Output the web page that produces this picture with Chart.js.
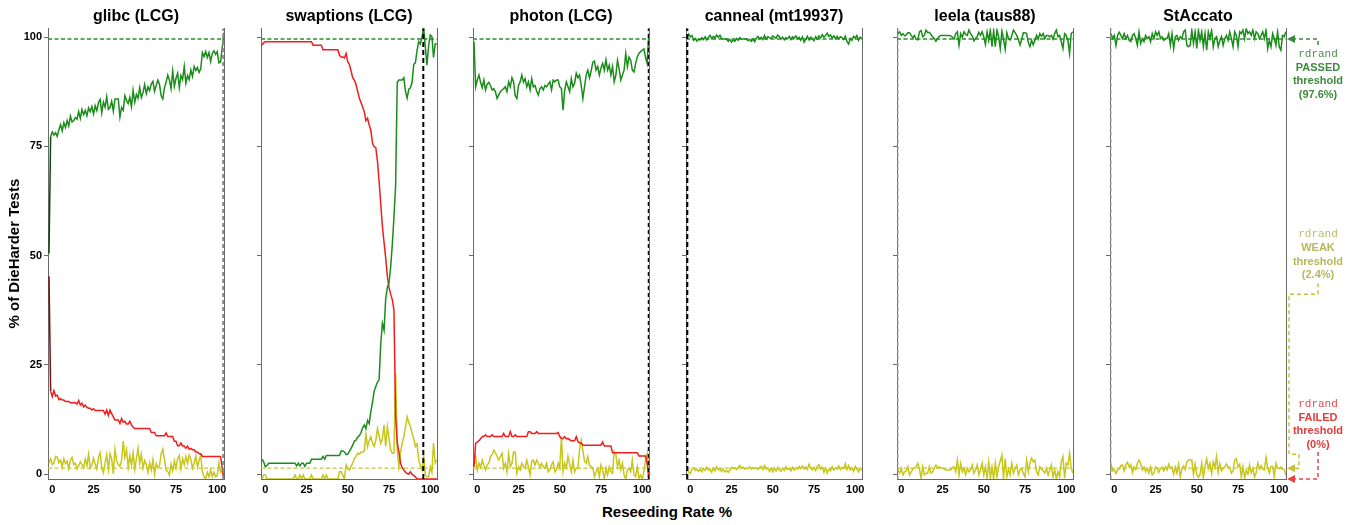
<!DOCTYPE html>
<html><head><meta charset="utf-8">
<script src="https://cdn.jsdelivr.net/npm/chart.js@4.4.1/dist/chart.umd.min.js"></script>
<style>
html,body{margin:0;padding:0;background:#fff;}
#wrap{position:relative;width:1349px;height:525px;overflow:hidden;background:#fff;}
#xtitle{position:absolute;left:467px;width:400px;top:503px;text-align:center;font:bold 15px 'Liberation Sans',Arial,sans-serif;line-height:18px;color:#000;}
</style></head><body>
<div id="wrap"><div id="xtitle">Reseeding Rate %</div></div>
<script>
// ---------- DATA ----------
const rates = [-2,-1,0,1,2,3,4,5,6,7,8,9,10,11,12,13,14,15,16,17,18,19,20,21,22,23,24,25,26,27,28,29,30,31,32,33,34,35,36,37,38,39,40,41,42,43,44,45,46,47,48,49,50,51,52,53,54,55,56,57,58,59,60,61,62,63,64,65,66,67,68,69,70,71,72,73,74,75,76,77,78,79,80,81,82,83,84,85,86,87,88,89,90,91,92,93,94,95,96,97,98,99,100,101,102,103,104];
const xTickValues = [0, 25, 50, 75, 100];
const yTickValues = [0, 25, 50, 75, 100];
const PASSED = 97.6, WEAK = 2.4, FAILED = 0;
const panelTitles = ['glibc (LCG)', 'swaptions (LCG)', 'photon (LCG)', 'canneal (mt19937)', 'leela (taus88)', 'StAccato'];
const markerRates = [103.6, 95.8, 103.8, -1.8, -2.2, -2.2];

const glibcPassed = [50, 76,
 77, 76.3, 76.8, 76, 77.5, 78.6, 77.2, 79, 78, 79.5,
 78.3, 80.5, 79.2, 79.5, 80.2, 79.8, 81.5, 80, 82, 80.8,
 81.8, 80.6, 82.3, 81.5, 82.6, 81, 82.8, 81.7, 83.5, 84.2,
 81.2, 83.6, 82.5, 84.8, 82, 82.4, 83.8, 81.6, 84.3, 84.3,
 84.3, 80.3, 82.4, 81.8, 85, 84, 83.3, 84.7, 82.6, 86.2,
 83.6, 85.3, 84.5, 86.8, 84.6, 85.7, 87.5, 85.5, 87, 86.2,
 87.6, 88.2, 86, 87.3, 88.5, 87.5, 85, 84.3, 86.8, 88,
 89.6, 88.5, 86.6, 90.5, 87.1, 88.9, 90, 86.8, 89.5, 88.6,
 91.5, 87.8, 89.5, 88.6, 90.7, 89.3, 91.5, 90.6, 91.3, 90.2,
 91, 94.6, 93.7, 94.8, 93.5, 94.6, 92.6, 94.4, 95, 94.2,
 94.8,
 92.3, 92.5, 95.5, 99];
const glibcFailed = [45, 19.5,
 18.3, 19.6, 18.4, 18.6, 17.6, 17.8, 17.5, 17.5, 17.2, 17.2,
 17.2, 16.9, 16.9, 16.9, 16.9, 16.6, 17.4, 16.4, 16.8, 16,
 16.4, 15.9, 15.7, 15.7, 15.3, 15.6, 15.2, 15.2, 15.2, 15.2,
 15.2, 15.2, 14.4, 15.3, 14.1, 15.3, 14.5, 13.8, 13.1, 13.1,
 13.1, 12.3, 13.4, 12.6, 12.8, 12.2, 12.2, 12.8, 12, 11.5,
 11.2, 11.2, 11.2, 11.2, 11.2, 11.2, 11.2, 11.2, 11.2, 11.2,
 10.3, 10.3, 10.3, 9.6, 9.6, 9.6, 9.6, 9.6, 9.6, 10.2,
 9.4, 9.4, 9.4, 9.4, 8.4, 8.4, 7.4, 7.4, 8.0, 7.3,
 7.3, 6.8, 7.3, 6.6, 6.8, 6.5, 6.5, 6.0, 6.0, 5.6,
 5.6, 5, 5, 5, 5, 5, 5, 5, 5, 5,
 5,
 5, 5, 2.5, 0];
const glibcWeak = [3.5, 4.5,
 3.2, 3.6, 5, 4.8, 3.6, 4.2, 2.6, 4.5, 3.4, 4,
 2.3, 4.2, 4.8, 3.2, 3.5, 2.2, 3, 3.8, 3.2, 2.5,
 4.4, 3, 5.5, 2.4, 3.1, 4.6, 3.3, 2.2, 4.8, 5.8,
 2.5, 1.4, 3.5, 5.4, 2.1, 5.6, 4.4, 1.1, 6.6, 4,
 3.2, 2.8, 4.2, 8.4, 4.8, 6.5, 2.6, 5.2, 3, 5.8,
 2.1, 4.5, 6.8, 3.5, 5.5, 2.4, 4.1, 3.2, 1.5, 3.6,
 2, 4.3, 1, 3.4, 2.5, 3, 5.5, 6.6, 4.3, 2,
 1.7, 0.8, 3.3, 1.8, 4, 2.4, 4.5, 5.2, 2.2, 4.5,
 3.2, 5, 3.5, 5.3, 4.4, 2.4, 3.5, 5.1, 2.7, 4.2,
 5.2, 1.6, 0.5, 0, 1.5, 0.5, 2, 0.5, 1.5, 0.5,
 0.8,
 3.5, 1.5, 2, 0];

const swaptionsPassed = [4.4, 3.8,
 2.7, 3, 3.5, 3.5, 3.5, 3.5, 3.5, 3.5, 3.5, 3.5,
 3.5, 3.5, 3.5, 3.5, 3.5, 3.5, 3.5, 3.5, 3.5, 2.9,
 3.5, 2.9, 3.5, 3.5, 2.8, 3.5, 3.5, 3.5, 4.4, 4.4,
 4.4, 4.4, 4.4, 4.4, 4.4, 5, 4.4, 5.2, 5.2, 5.2,
 5.2, 5.2, 5.2, 5.2, 5.2, 5.2, 6.2, 6.2, 6, 5.4,
 5.5, 6.2, 6.8, 7.5, 8.4, 8.6, 9.3, 9.6, 10.3, 11.3,
 12, 11.2, 13, 12.3, 15, 17, 19.5, 20.5, 21.5, 22,
 30, 34.5, 33, 40, 42.5, 43.5, 47, 52, 58, 65,
 88, 88.5, 88.5, 88.5, 89, 86, 84.5, 86.5, 86.8, 88,
 92, 92.3, 95, 97, 96.5, 98, 100, 96, 91.8, 96,
 98.5,
 98.2, 93.5, 96.5, 96.5];
const swaptionsFailed = [96.2, 96.8,
 97, 97, 97, 97, 97, 97, 97, 97, 97, 97,
 97, 97, 97, 97, 97, 97, 97, 97, 97, 97,
 97, 97, 97, 97, 97, 97, 97, 97, 97, 96.2,
 96.2, 96.2, 96.2, 96.2, 96.2, 95.2, 95.2, 95.2, 95.2, 95.2,
 95.2, 95.2, 95.2, 95.2, 95.2, 94, 93.6, 93.6, 93.4, 94.4,
 92.5, 92, 90.5, 89, 88.5, 87.5, 86, 84.5, 83.5, 82.5,
 81.5, 79.5, 80, 78.5, 77.3, 74.5, 73.7, 73.5, 70.5, 66,
 61, 56, 52.5, 49, 45, 42.5, 41, 39.8, 37.5, 14,
 8, 6, 3.5, 2.5, 2, 1.5, 1.2, 1.1, 1.6, 1,
 0.8, 0.5, 0, 0, 0, 0, 0, 0, 0, 0,
 0,
 0, 0, 0, 0];
const swaptionsWeak = [0, 0.9,
 0.9, 0, 0, 0, 0, 0, 0, 0, 0, 0,
 0, 0, 0, 0, 0, 0, 0, 0, 0.9, 0,
 0, 0.9, 0, 0.9, 0, 0, 0, 0, 0.9, 0,
 0, 0, 0, 0, 0, 0.9, 0, 0.9, 0, 0,
 0, 0, 0, 0, 0, 1.6, 1.6, 0.8, 0, 3.1,
 2.3, 2, 2.8, 3.5, 4.5, 5, 5.7, 5.5, 6, 6,
 6.2, 10, 7.2, 8.5, 9.4, 8, 7.2, 8.6, 11.2, 9.5,
 7.9, 9, 12, 7.2, 11.6, 9, 6.4, 5.7, 5.7, 23.4,
 6.4, 2.7, 6, 7.9, 9.4, 11.5, 13.8, 12.5, 11.6, 10.1,
 9, 7.2, 7.8, 4.2, 3, 2, 5, 0.9, 0.5, 0.5,
 2.7,
 1.5, 8, 3.5, 4.2];

const photonPassed = [97, 87,
 88.5, 89.6, 88, 86.8, 88.5, 86.3, 87.6, 88, 87.3, 86.3,
 86.6, 85.9, 84.4, 85.2, 85.9, 86.3, 86.6, 87, 85.9, 88.1,
 87, 89, 88.1, 85, 84.4, 87.3, 88.1, 89.6, 88, 88.8,
 87, 88.1, 86.3, 88.8, 87, 87.3, 86, 85.2, 86.6, 87,
 86.3, 87.3, 87, 87.6, 88.1, 86.3, 88.5, 88.1, 88.5, 88.5,
 87, 86.6, 81.8, 86.3, 88.1, 87, 85.9, 88.8, 87, 87.8,
 90, 89, 89.6, 87.3, 84.4, 87, 89.6, 90.7, 89, 90.5,
 92.4, 92.7, 90.7, 91.5, 89.6, 91.2, 92.2, 90.7, 93, 90.7,
 91.8, 89.6, 91.5, 88.1, 89.6, 92.9, 91, 88.5, 89.6, 90.7,
 94.4, 91.5, 93.6, 92.9, 90.7, 90.3, 92.2, 93.6, 94.4, 94.8,
 95.1,
 95.4, 93.5, 92.2, 98.8];
const photonFailed = [2.7, 7.9,
 8.2, 8.5, 8.9, 9.4, 9.4, 9.8, 9.4, 9.4, 9.4, 9.8,
 9.4, 9.4, 9.4, 9.4, 9.4, 9.4, 10.1, 9.4, 9.4, 9.4,
 10.5, 9.4, 9.4, 9.8, 9.4, 9.4, 9.4, 9.4, 9.4, 9.4,
 9.4, 10.5, 10.5, 10.1, 10.1, 10.1, 10.5, 10.1, 10.1, 10.1,
 10.1, 10.1, 10.1, 10.1, 10.1, 10.1, 10.1, 10.1, 10.1, 10.3,
 9.4, 9.0, 9.0, 9.4, 8.9, 9.0, 8.7, 8.5, 8.5, 8.5,
 9.4, 8.3, 8.0, 8.0, 7.5, 7.5, 7.5, 7.5, 7.5, 7.5,
 7.5, 7.5, 7.5, 7.5, 7.5, 7.5, 8.2, 7.3, 7.3, 7.3,
 7.3, 7.3, 5.8, 5.8, 5.8, 5.8, 5.8, 5.8, 5.8, 5.8,
 5.8, 5.8, 5.8, 5.8, 5.8, 5.8, 5.8, 5.8, 5.1, 5.1,
 5.1,
 5.1, 5.1, 3.5, 0];
const photonWeak = [4, 5,
 2, 3.5, 2.6, 4.2, 3, 2, 3.2, 3.5, 5, 5.4,
 6.4, 5.8, 5, 4.2, 5, 5.7, 2.4, 3.5, 1.6, 5.6,
 2.7, 3.5, 6, 6, 1.3, 2.7, 2, 3.5, 2.8, 2.4,
 4.2, 2.7, 0.9, 4, 4.2, 3.1, 4.2, 3.5, 2.7, 3.5,
 2.7, 2.4, 3.5, 1.6, 2, 3.2, 3.8, 1.6, 2, 3.5,
 2.4, 9.4, 1.6, 3.5, 2.5, 5, 3.2, 1.6, 4.2, 1.6,
 2.4, 2.4, 6.5, 8.6, 6.4, 4, 3.5, 5, 3.1, 2.7,
 2.5, 0.5, 1.6, 2.4, 0.5, 3.1, 2, 0, 2.4, 0.9,
 2.7, 1.6, 1.3, 6.1, 5.5, 2.7, 4.2, 2, 3.5, 0.9,
 0, 2, 2.4, 1.6, 4.2, 0.9, 0.5, 2.7, 0.2, 0.9,
 0,
 1.6, 4.2, 5.7, 2.7];

const cannealPassed = [97.8, 98.7,
 98.1, 98.4, 97.3, 97.7, 97.1, 97.6, 97.4, 97.9, 97.5, 98.1,
 97.4, 98, 98.4, 97.7, 98.2, 97.8, 98.5, 98, 98.4, 97.7,
 97.6, 97.6, 97.6, 97.1, 97.5, 96.9, 97.4, 97.1, 97.7, 97.3,
 97.9, 97.6, 97.6, 97.6, 97.6, 97.2, 97.5, 97.1, 97.6, 97,
 97.8, 98.2, 97.7, 98, 97.5, 98.4, 97.6, 98.1, 97.9, 97.7,
 98.3, 98, 97.8, 98.5, 98.1, 97.6, 98, 97.4, 97.9, 97.7,
 98.2, 97.5, 98.1, 97.8, 98.3, 97.6, 98, 97.3, 98.1, 96.9,
 97.5, 98.2, 97.4, 98, 97.7, 97.2, 98.1, 97.6, 98.3, 97.8,
 98.6, 98, 98.4, 98.9, 98.2, 98.5, 97.8, 98.3, 97.7, 98.2,
 97.6, 98.1, 97.9, 97.5, 98.2, 97, 96.5, 97.7, 97.3, 98.2,
 97.8,
 98.4, 97.3, 98, 97.7];
const cannealWeak = [2.6, 1.5,
 1.2, 2.2, 2.5, 1.9, 2.2, 1.7, 2.1, 1.6, 2.3, 1.9,
 2.6, 2, 2.2, 1.5, 2.4, 1.8, 2.7, 2, 2.3, 1.7,
 2.2, 1.6, 1.9, 1.5, 2, 2.6, 2.3, 2.5, 2.1, 2.6,
 3, 2.4, 2.6, 2.2, 2.4, 2.3, 2.7, 2.2, 2.5, 2.3,
 2.5, 2.1, 2.6, 2.8, 2.1, 3, 2.2, 2.5, 1.7, 2.3,
 1.6, 2.4, 1.8, 2.6, 2, 1.7, 2.4, 1.9, 2.7, 2.1,
 2.4, 1.8, 2.6, 2, 2.5, 2.2, 2.8, 2.3, 2.9, 2.2,
 2.7, 2.1, 3.3, 2.5, 2, 2.6, 1.9, 2.8, 3.2, 2.2,
 2.6, 1.5, 2.4, 1.3, 2.2, 1.8, 2.7, 2, 2.5, 2.2,
 2.9, 2.1, 2.6, 2.3, 3.4, 2.1, 3, 2, 2.5, 1.7,
 2.8,
 2.2, 1.6, 2.4, 1.9];

const leelaPassed = [98.8, 99.2,
 98.4, 98.8, 98.3, 98.5, 99, 99, 98.4, 97.9, 98.4, 97.5,
 97.4, 99.2, 99.5, 98.1, 98.4, 99.6, 99, 99.1, 98.6, 98.1,
 97.7, 97.1, 97.7, 98.2, 98.4, 98.4, 98.4, 98.4, 98.4, 98.4,
 98.3, 98, 97.6, 98.8, 99.2, 96.2, 98.8, 98, 99.2, 98.6,
 98.4, 99.6, 98.8, 98.3, 97.2, 97.7, 98.1, 99.1, 98.4, 99.2,
 98.1, 96.4, 99.2, 97.3, 99.6, 95.9, 99.5, 95.9, 99.6, 98.1,
 95.5, 99.4, 97.5, 95.3, 99, 97.7, 97.4, 98.4, 99.6, 99,
 98.4, 97.5, 96.3, 97.5, 99, 99, 98.8, 96.8, 95.9, 97.3,
 96.3, 97.3, 98.4, 97.6, 98.8, 98.2, 98.8, 97.7, 98.4, 98.4,
 98.1, 98.4, 97.6, 98.8, 99.6, 98.1, 98.4, 97, 95.5, 98.8,
 98.4,
 97.3, 94.4, 98.8, 99.2];
const leelaWeak = [2, 1.3,
 2.4, 0.9, 1.6, 1.8, 2.7, 0.9, 1.6, 2.2, 2.4, 2.7,
 3.5, 2.2, 0.2, 2.7, 0.9, 1.3, 1.3, 2.7, 1.3, 1.6,
 2.4, 3.1, 2.4, 2.7, 2.5, 2.4, 2.2, 2, 2, 2,
 2, 2.5, 2.7, 1.6, 4.2, 0.9, 3.5, 1.6, 2.4, 0.9,
 2.4, 1.6, 2, 3.1, 1.3, 2, 3.1, 0.9, 2, 3.5,
 0.9, 2.7, 0.2, 3.8, 0.2, 2.7, 0, 3.5, 0.5, 2.7,
 4, 5.3, 0, 4.5, 0.5, 2.2, 0.9, 3.5, 1.3, 2.4,
 3.1, 0.9, 2, 2.4, 1.3, 0.5, 4.2, 1.6, 3.5, 4.6,
 3.8, 4.2, 1.6, 0.9, 2.7, 2.2, 1.8, 1.3, 2.4, 0.9,
 2, 3.1, 0.5, 2, 0, 1.6, 0.5, 3.8, 5, 0.2,
 3.5,
 3.1, 5.7, 2.4, 1.3];

const staccatoPassed = [98.8, 97.7,
 98.4, 96.2, 98.4, 99.1, 98.4, 97.7, 98.8, 97.7, 98.4, 97.3,
 97, 98.4, 98.8, 97.7, 96.2, 99.2, 96.6, 97.7, 97, 98.4,
 97.7, 98.1, 97, 98.8, 97.7, 99.2, 98.4, 99.2, 97.7, 98.1,
 97.3, 97.7, 97.7, 98.8, 96.2, 98.8, 95.5, 98.1, 98.4, 97.3,
 98.1, 97.7, 99.2, 99.6, 96.2, 95.9, 96.2, 99.6, 96.6, 99.2,
 95.5, 99.6, 97.3, 99.2, 95.9, 98.8, 95.1, 99.2, 97.7, 99.6,
 95.9, 97.7, 98.1, 95.9, 97.3, 98.1, 96.2, 97.7, 98.4, 97.3,
 99.2, 97.7, 95.9, 99.2, 98.4, 95.9, 99.2, 98.8, 99.6, 97.7,
 99.9, 98.8, 99.2, 98.4, 99.6, 97.7, 99.2, 98.8, 97.7, 98.4,
 99.2, 97.7, 99.6, 95.5, 97.3, 95.9, 98.8, 97.7, 96.2, 99.2,
 95.9,
 95.1, 98.4, 98.1, 99.2];
const staccatoWeak = [3.3, 1.8,
 2.2, 1.2, 2, 2.2, 3, 3.1, 1.8, 3.2, 3.7, 2.7,
 3.2, 1.4, 2.7, 2.1, 3.5, 4.2, 3.5, 2, 2.7, 1.6,
 2.4, 1.3, 2.7, 0.9, 1.3, 2.7, 2.4, 1.5, 2.3, 2.6,
 1.8, 2.7, 2, 3.3, 2.5, 2.6, 1.1, 2.6, 1.3, 3.3,
 0.5, 2.2, 2.9, 2.1, 3.8, 4.2, 4.2, 4.2, 1, 3.3,
 1, 0.4, 1, 3.5, 0.3, 2.8, 4.5, 2.3, 3.5, 1.2,
 3.8, 2.5, 5, 1.5, 3.4, 1.8, 2.4, 2.7, 3.3, 2.6,
 2.6, 1.3, 1.8, 4.2, 4.5, 2.7, 3.3, 0.4, 2.8, 0.2,
 2, 1.1, 3.1, 1.4, 2.4, 0.5, 1.4, 3.5, 2.2, 3,
 2.2, 2, 4.8, 2.4, 1.3, 2.8, 2.8, 0.5, 3.5, 2.4,
 2.3,
 2.7, 2.2, 2.1, 0.8];

// ---------- LAYOUT / STYLE ----------
const FONT = "'Liberation Sans', Arial, Helvetica, sans-serif";
const MONO = "'Liberation Mono', 'Courier New', monospace";
Chart.defaults.font.family = FONT;
const X_MIN = -2.6, X_MAX = 104.1;
// visible tick axis of the reference is slightly expanded around 0..100
const TICK_AXIS_MIN = -1.14, TICK_AXIS_MAX = 102.06;
const SIDE = 48, PLOT_W = 176, H = 525;
const panelLeft = [48, 261, 473, 686, 897, 1110];
const C_GREEN = '#1a8c1a', C_RED = '#f21c1c', C_YEL = '#c6c61c';
const C_GREEN_D = '#2f8f2f', C_YEL_D = '#c8c840';
const AXIS = '#6a6a6a';
const markerStyle = [
  {color: '#8c8c8c', width: 2, dash: [4, 3]},
  {color: '#000', width: 2, dash: [5, 3]},
  {color: '#000', width: 1.5, dash: [4, 3]},
  {color: '#000', width: 2, dash: [5, 3]},
  {color: '#8c8c8c', width: 1.5, dash: [4, 3]},
  {color: '#8c8c8c', width: 1.5, dash: [4, 3]}
];
const panelSeries = [
  {passed: glibcPassed, failed: glibcFailed, weak: glibcWeak},
  {passed: swaptionsPassed, failed: swaptionsFailed, weak: swaptionsWeak},
  {passed: photonPassed, failed: photonFailed, weak: photonWeak},
  {passed: cannealPassed, failed: null, weak: cannealWeak},
  {passed: leelaPassed, failed: null, weak: leelaWeak},
  {passed: staccatoPassed, failed: null, weak: staccatoWeak}
];

const pts = vals => vals.map((v, i) => ({x: rates[i], y: v}));

const notesPlugin = {
  id: 'thresholdNotes',
  afterDraw(chart) {
    const {ctx, chartArea: a, scales} = chart;
    const y = scales.yData;
    const R = a.right, tx = R + 32;
    const yP = y.getPixelForValue(PASSED), yW = y.getPixelForValue(WEAK), yF = y.getPixelForValue(FAILED);
    const path = (p, color) => {
      ctx.save(); ctx.strokeStyle = color; ctx.lineWidth = 1.5; ctx.setLineDash([4, 3]);
      ctx.beginPath(); ctx.moveTo(p[0][0], p[0][1]);
      for (let k = 1; k < p.length; k++) ctx.lineTo(p[k][0], p[k][1]);
      ctx.stroke(); ctx.restore();
    };
    const arrow = (yy, color) => {
      ctx.save(); ctx.fillStyle = color; ctx.beginPath();
      ctx.moveTo(R + 1, yy); ctx.lineTo(R + 9, yy - 4); ctx.lineTo(R + 9, yy + 4); ctx.closePath(); ctx.fill(); ctx.restore();
    };
    const block = (word, pct, y0, color, monoColor) => {
      ctx.save(); ctx.textAlign = 'center'; ctx.textBaseline = 'middle';
      ctx.fillStyle = monoColor; ctx.font = '11px ' + MONO; ctx.fillText('rdrand', tx, y0);
      ctx.fillStyle = color; ctx.font = 'bold 11px ' + FONT;
      ctx.fillText(word, tx, y0 + 13.7); ctx.fillText('threshold', tx, y0 + 27.4); ctx.fillText('(' + pct + '%)', tx, y0 + 41);
      ctx.restore();
    };
    path([[tx, yP + 6], [tx, yP], [R + 9, yP]], '#3a8a3a');
    arrow(yP, '#3a8a3a');
    block('PASSED', PASSED, yP + 15, '#3d8b3d', '#4d8d4d');
    path([[tx, yW - 185], [tx, yW - 174], [R + 3, yW - 174], [R + 3, yW - 14], [R + 13, yW - 14], [R + 13, yW], [R + 9, yW]], '#c4c43c');
    arrow(yW, '#c4c43c');
    block('WEAK', WEAK, yW - 234, '#b8b85a', '#bcbc6a');
    path([[tx, yF - 27], [tx, yF], [R + 9, yF]], '#e84444');
    arrow(yF, '#e84444');
    block('FAILED', FAILED, yF - 75, '#e53b3b', '#e24a4a');
  }
};

const wrap = document.getElementById('wrap');
panelSeries.forEach((s, i) => {
  const extraRight = i === 5 ? 15 : 0;
  const canvas = document.createElement('canvas');
  canvas.width = SIDE * 2 + PLOT_W + extraRight;
  canvas.height = H;
  canvas.style.position = 'absolute';
  canvas.style.left = (panelLeft[i] - SIDE) + 'px';
  canvas.style.top = '0px';
  wrap.appendChild(canvas);

  const ms = markerStyle[i];
  const datasets = [
    {data: [{x: markerRates[i], y: 0}, {x: markerRates[i], y: 100}], borderColor: ms.color, borderWidth: ms.width, borderDash: ms.dash},
    {data: pts(s.passed), borderColor: C_GREEN,
     segment: i === 0 ? {borderColor: c => c.p0DataIndex === 0 ? '#0d4a0d' : undefined} : undefined}
  ];
  if (s.failed) datasets.push({data: pts(s.failed), borderColor: C_RED,
     segment: i === 0 ? {borderColor: c => c.p0DataIndex === 0 ? '#7a1010' : undefined} : undefined});
  datasets.push({data: pts(s.weak), borderColor: C_YEL});
  datasets.push({data: [{x: X_MIN, y: PASSED}, {x: X_MAX, y: PASSED}], borderColor: C_GREEN_D, borderWidth: 1.3, borderDash: [4, 2.5]});
  datasets.push({data: [{x: X_MIN, y: WEAK}, {x: X_MAX, y: WEAK}], borderColor: C_YEL_D, borderWidth: 1.3, borderDash: [4, 2.5]});
  datasets.forEach(d => { d.yAxisID = 'yData'; });

  new Chart(canvas, {
    type: 'line',
    data: {datasets},
    options: {
      responsive: false, animation: false, devicePixelRatio: 1,
      layout: {padding: {left: 0, right: extraRight, top: 0, bottom: 0}},
      elements: {point: {radius: 0}, line: {borderWidth: 1.5, tension: 0}},
      plugins: {
        legend: {display: false}, tooltip: {enabled: false},
        title: {display: true, text: panelTitles[i], color: '#000', font: {family: FONT, size: 16, weight: 'bold'}, padding: {top: 7, bottom: 2}}
      },
      scales: {
        x: {
          type: 'linear', min: X_MIN, max: X_MAX,
          afterBuildTicks: sc => { sc.ticks = xTickValues.map(v => ({value: v})); },
          afterFit: sc => { sc.height = 46; },
          grid: {display: false, drawTicks: false},
          border: {display: true, color: AXIS, width: 1},
          ticks: {color: '#000', font: {family: FONT, size: 11, weight: 'bold'}, padding: 4, maxRotation: 0, autoSkip: false}
        },
        yData: {
          type: 'linear', position: 'left', min: 0, max: 100, display: false
        },
        y: {
          type: 'linear', position: 'left', min: TICK_AXIS_MIN, max: TICK_AXIS_MAX,
          afterBuildTicks: sc => { sc.ticks = yTickValues.map(v => ({value: v})); },
          afterFit: sc => { sc.width = SIDE; },
          ticks: {color: '#000', font: {family: FONT, size: 11, weight: 'bold'}, padding: 2,
                  callback: v => (i === 0 ? v : '')},
          grid: {display: true, drawOnChartArea: false, drawTicks: true, tickLength: 4, color: AXIS},
          border: {display: true, color: AXIS, width: 1},
          title: {display: i === 0, text: '% of DieHarder Tests', color: '#000', font: {family: FONT, size: 15, weight: 'bold'}, padding: {top: 6, bottom: 0}}
        },
        y2: {
          type: 'linear', position: 'right', min: 0, max: 100,
          afterFit: sc => { sc.width = SIDE; },
          ticks: {display: false}, grid: {display: false, drawTicks: false},
          border: {display: true, color: AXIS, width: 1}
        }
      }
    },
    plugins: i === 5 ? [notesPlugin] : []
  });
});
</script>
</body></html>
